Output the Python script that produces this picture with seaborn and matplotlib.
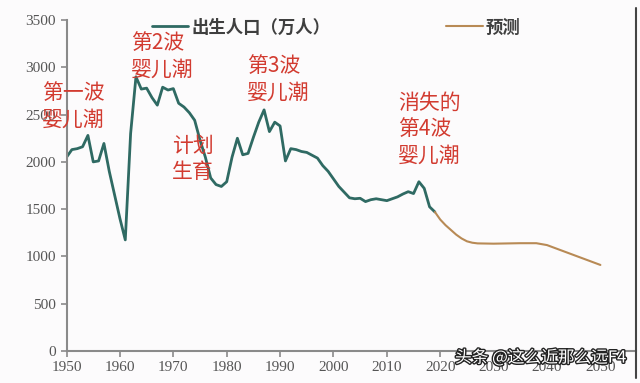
import numpy as np
import pandas as pd
import matplotlib.pyplot as plt
import matplotlib.patheffects as pe
from matplotlib.lines import Line2D
import seaborn as sns

# 出生人口（万人），读图估计
years = list(range(1950, 2020))
births = [2050, 2130, 2140, 2160, 2280, 2000, 2010, 2195, 1900, 1650,
          1400, 1175, 2300, 2900, 2770, 2780, 2680, 2600, 2790, 2760,
          2775, 2620, 2580, 2520, 2440, 2230, 2050, 1830, 1760, 1740,
          1790, 2050, 2250, 2075, 2090, 2260, 2420, 2550, 2320, 2420,
          2380, 2010, 2140, 2130, 2110, 2100, 2070, 2040, 1960, 1900,
          1820, 1740, 1680, 1620, 1610, 1615, 1580, 1600, 1610, 1600,
          1590, 1610, 1630, 1660, 1685, 1665, 1790, 1720, 1525, 1470]

# 预测
fc_years = [2019, 2020, 2021, 2022, 2023, 2024, 2025, 2026, 2027, 2030, 2035, 2038, 2040, 2045, 2050]
fc_births = [1470, 1390, 1330, 1280, 1230, 1190, 1160, 1145, 1138, 1135, 1140, 1140, 1120, 1015, 910]

labels = ["第一波\n婴儿潮", "第2波\n婴儿潮", "计划\n生育", "第3波\n婴儿潮", "消失的\n第4波\n婴儿潮"]
label_x = [1945.4, 1962.0, 1969.7, 1983.8, 2012.1]
label_y = [2840, 3370, 2285, 3130, 2740]

df = pd.DataFrame({"年份": years, "出生": births})
df_fc = pd.DataFrame({"年份": fc_years, "出生": fc_births})

sns.set_style("ticks")
plt.rcParams['font.family'] = ['Noto Sans CJK SC', 'DejaVu Sans']

teal = "#2f6a63"
brown = "#b88a55"
red = "#d23b30"
grey = "#8a8a8a"

fig = plt.figure(figsize=(6.4, 3.83), dpi=100, facecolor="#fcfbfc")
ax = fig.add_axes([0.104, 0.0836, 0.890, 0.864])
ax.set_facecolor("#fcfbfc")

sns.lineplot(data=df, x="年份", y="出生", ax=ax, color=teal, linewidth=2.0, label="出生人口（万人）")
sns.lineplot(data=df_fc, x="年份", y="出生", ax=ax, color=brown, linewidth=1.5, label="预测")

ax.set_xlim(1950, 2056.7)
ax.set_ylim(0, 3500)
ax.set_xticks(range(1950, 2051, 10))
ax.set_yticks(range(0, 3501, 500))
ax.set_xlabel("")
ax.set_ylabel("")
for lab in ax.get_xticklabels() + ax.get_yticklabels():
    lab.set_family("Liberation Serif")
    lab.set_fontsize(11)
    lab.set_color("#555555")
ax.tick_params(colors=grey, length=4, width=1.2, labelcolor="#555555")
ax.spines["top"].set_visible(False)
ax.spines["right"].set_visible(False)
for s in ["left", "bottom"]:
    ax.spines[s].set_color(grey)
    ax.spines[s].set_linewidth(1.5)

leg = ax.legend(loc="upper left", bbox_to_anchor=(0.15, 1.005), ncol=2, frameon=False,
                handlelength=2.1, handletextpad=0.15, columnspacing=6.7,
                borderpad=0, borderaxespad=0,
                prop={"family": ["Noto Sans CJK SC", "DejaVu Sans"], "size": 12.5, "weight": "bold"})
for t in leg.get_texts():
    t.set_color("#3f3f3f")

for txt, x, y in zip(labels, label_x, label_y):
    ax.text(x, y, txt, color=red, fontsize=15, ha="left", va="top",
            linespacing=1.25, clip_on=False)

# 右侧竖线
fig.add_artist(Line2D([636 / 640, 636 / 640], [5 / 383, 375 / 383], color="#444444", linewidth=1.5))

# 水印
fig.text(455 / 640, 25 / 383, "头条 @这么近那么远F4", color="white", fontsize=12,
         ha="left", va="center",
         path_effects=[pe.withStroke(linewidth=2, foreground="#222222")])

fig.savefig("out.png", dpi=100, facecolor=fig.get_facecolor())
